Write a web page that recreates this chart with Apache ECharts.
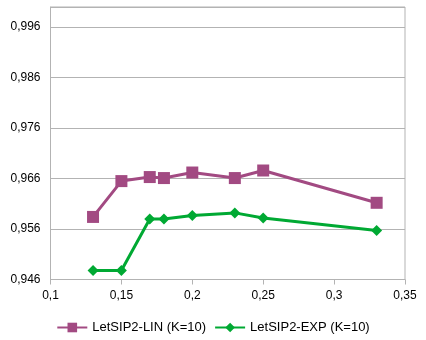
<!DOCTYPE html>
<html>
<head>
    <meta charset="utf-8">
    <title>LetSIP2</title>
    <script src="https://cdn.jsdelivr.net/npm/echarts@6/dist/echarts.min.js"></script>
</head>
<body style="margin:0;background:#fff;">
<div id="main" style="width:426px;height:340px;"></div>
<script type="text/javascript">

// chart data
var xValues = [0.13, 0.15, 0.17, 0.18, 0.2, 0.23, 0.25, 0.33];
var linValues = [0.9584, 0.9655, 0.9663, 0.9661, 0.9672, 0.9661, 0.9676, 0.9612];
var expValues = [0.9478, 0.9478, 0.9580, 0.9580, 0.9587, 0.9592, 0.9582, 0.9557];
var seriesNames = ['LetSIP2-LIN (K=10)', 'LetSIP2-EXP (K=10)'];

function pairs(ys){
    var out = [];
    for (var i = 0; i < xValues.length; i++) out.push([xValues[i], ys[i]]);
    return out;
}

var myChart = echarts.init(document.getElementById('main'));
var font = 'Liberation Sans';

var option = {
    animation: false,
    grid: {
        left: 50.5, right: 21, top: 7, bottom: 60.5,
        show: true, borderColor: '#b3b3b3', borderWidth: 1
    },
    legend: {
        bottom: 1,
        left: 'center',
        itemWidth: 30,
        itemHeight: 12,
        itemGap: 8,
        textStyle: { fontFamily: font, fontSize: 13, color: '#000' },
        data: seriesNames
    },
    xAxis: {
        type: 'value',
        min: 0.1, max: 0.35, interval: 0.05,
        axisLine: { show: true, lineStyle: { color: '#b3b3b3' } },
        axisTick: { show: true, length: 5, lineStyle: { color: '#b3b3b3' } },
        splitLine: { show: false },
        axisLabel: {
            margin: 10,
            fontFamily: font, fontSize: 12, color: '#000',
            formatter: function (v) { return String(parseFloat(v.toFixed(2))).replace('.', ','); }
        }
    },
    yAxis: {
        type: 'value',
        min: 0.946, max: 1.0, interval: 0.01,
        axisLine: { show: true, lineStyle: { color: '#b3b3b3' } },
        axisTick: { show: false },
        splitLine: { show: true, lineStyle: { color: '#b3b3b3' } },
        axisLabel: {
            margin: 10, showMaxLabel: false,
            fontFamily: font, fontSize: 12, color: '#000',
            formatter: function (v) { return v.toFixed(3).replace('.', ','); }
        }
    },
    series: [{
        name: seriesNames[0],
        type: 'line',
        data: pairs(linValues),
        symbol: 'rect',
        symbolSize: 12,
        color: '#a24a82',
        lineStyle: { width: 3 }
    }, {
        name: seriesNames[1],
        type: 'line',
        data: pairs(expValues),
        symbol: 'diamond',
        symbolSize: 11,
        color: '#00a933',
        lineStyle: { width: 3 }
    }]
};

myChart.setOption(option);
</script>
</body>
</html>
